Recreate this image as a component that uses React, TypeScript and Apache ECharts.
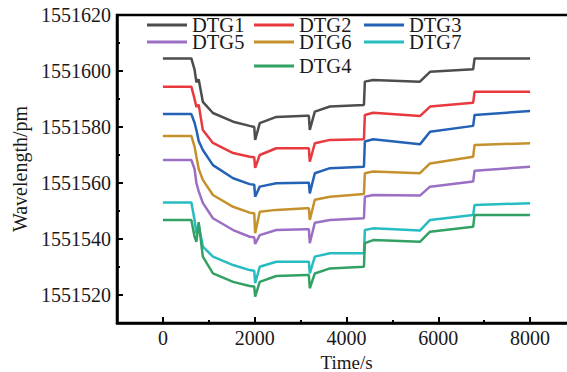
import React, { useEffect, useRef } from "react";
import * as echarts from "echarts";

const timeS = [0, 620, 690, 730, 780, 870, 1090, 1530, 1890, 1990, 2010, 2110, 2470, 3130, 3180, 3200, 3310, 3640, 4380, 4400, 4580, 5600, 5820, 6760, 6790, 8000];

const dtg1 = [1551604.5, 1551604.5, 1551600.5, 1551596, 1551597, 1551589, 1551585, 1551581.9, 1551580.4, 1551580, 1551575.4, 1551581.4, 1551583.6, 1551584, 1551584, 1551579, 1551585.5, 1551587.3, 1551587.9, 1551596.2, 1551596.8, 1551596.2, 1551599.7, 1551600.6, 1551604.5, 1551604.5];
const dtg2 = [1551594.4, 1551594.4, 1551590, 1551587.2, 1551588, 1551578.9, 1551574.3, 1551570.7, 1551569.4, 1551569.2, 1551565.4, 1551570, 1551572.4, 1551572.4, 1551572.4, 1551567.6, 1551574.2, 1551575.4, 1551575.6, 1551584.3, 1551585.1, 1551583.9, 1551587.3, 1551588.7, 1551592.6, 1551592.6];
const dtg3 = [1551584.6, 1551584.6, 1551581.5, 1551578.9, 1551575, 1551571.8, 1551566.4, 1551561.7, 1551559.6, 1551559.4, 1551555.1, 1551558.7, 1551559.9, 1551560.1, 1551560.1, 1551556.3, 1551563.5, 1551565.3, 1551565.8, 1551574.8, 1551575.6, 1551573.8, 1551578.3, 1551580.4, 1551584.3, 1551585.7];
const dtg5 = [1551568.2, 1551568.2, 1551565, 1551560, 1551557, 1551552.9, 1551547.4, 1551543.2, 1551540.8, 1551540.6, 1551538.2, 1551541.4, 1551543.2, 1551543.5, 1551543.5, 1551538.5, 1551545.8, 1551546.8, 1551547.4, 1551555.1, 1551555.7, 1551555.5, 1551558.7, 1551560.5, 1551564.4, 1551565.8];
const dtg6 = [1551576.8, 1551576.8, 1551573, 1551569.4, 1551565, 1551561.1, 1551555.7, 1551551.5, 1551549.4, 1551549.2, 1551542.1, 1551549.7, 1551550.4, 1551551, 1551551, 1551546.8, 1551554, 1551555.1, 1551556.1, 1551563.5, 1551564.1, 1551563.5, 1551567, 1551569.4, 1551573.6, 1551574.2];
const dtg7 = [1551553, 1551553, 1551546.8, 1551542, 1551545, 1551537.3, 1551533.7, 1551530.7, 1551528.9, 1551528.7, 1551524.2, 1551530.1, 1551531.9, 1551531.9, 1551531.9, 1551527.7, 1551533.7, 1551534.9, 1551534.9, 1551543.2, 1551543.8, 1551543, 1551546.8, 1551548.6, 1551552.1, 1551552.8];
const dtg4 = [1551546.8, 1551546.8, 1551540.8, 1551539, 1551546, 1551533.7, 1551527.7, 1551524.7, 1551523.2, 1551523, 1551519.4, 1551524.7, 1551526.8, 1551527.1, 1551527.1, 1551522.4, 1551527.7, 1551529.5, 1551530.1, 1551538.5, 1551539.6, 1551539, 1551542.6, 1551544.4, 1551548.6, 1551548.6];

const xMajorTicks = [0, 2000, 4000, 6000, 8000];
const xMinorTicks = [-1000, 1000, 3000, 5000, 7000, 9000];
const yMajorTicks = [1551520, 1551540, 1551560, 1551580, 1551600, 1551620];
const yMinorTicks = [1551510, 1551530, 1551550, 1551570, 1551590, 1551610];

const seriesDefs = [
  { name: "DTG1", data: dtg1, color: "#4d4d4d" },
  { name: "DTG2", data: dtg2, color: "#e8393f" },
  { name: "DTG3", data: dtg3, color: "#2462b5" },
  { name: "DTG6", data: dtg6, color: "#c4912d" },
  { name: "DTG5", data: dtg5, color: "#9b6fc4" },
  { name: "DTG7", data: dtg7, color: "#26bcc1" },
  { name: "DTG4", data: dtg4, color: "#33a064" },
];

const legendPos = [
  { name: "DTG1", left: 147, row: 0 },
  { name: "DTG2", left: 254, row: 0 },
  { name: "DTG3", left: 364, row: 0 },
  { name: "DTG5", left: 147, row: 1 },
  { name: "DTG6", left: 254, row: 1 },
  { name: "DTG7", left: 364, row: 1 },
  { name: "DTG4", left: 254, row: 2 },
];
const rowCenters = [25, 42, 66];

const FONT = "'Liberation Serif', 'Times New Roman', serif";
const TXT = "#1a1a1a";
const plain = (v: number) => String(Math.round(v));

export default function App() {
  const ref = useRef<HTMLDivElement>(null);
  useEffect(() => {
    if (!ref.current) return;
    const chart = echarts.init(ref.current, undefined, { renderer: "svg" });
    const commonX = { min: -1000, max: 9000, interval: 1000, position: "bottom" as const, splitLine: { show: false } };
    const commonY = { min: 1551510, max: 1551620, interval: 10, position: "left" as const, splitLine: { show: false }, scale: true };
    chart.setOption({
      animation: false,
      backgroundColor: "#ffffff",
      grid: {
        left: 117, top: 15, right: -9, bottom: 49,
        outerBoundsMode: "none",
        containLabel: false,
        show: true, borderColor: "#000", borderWidth: 2.5, backgroundColor: "transparent",
      },
      legend: legendPos.map((l) => ({
        data: [l.name],
        left: l.left,
        top: rowCenters[l.row] - 10.5,
        padding: 0,
        itemWidth: 40,
        itemHeight: 3,
        icon: "rect",
        selectedMode: false,
        textStyle: { fontFamily: FONT, fontSize: 20.5, lineHeight: 15, color: TXT, padding: [6, 0, 0, 0] },
      })),
      xAxis: [
        {
          ...commonX,
          name: "Time/s",
          nameLocation: "middle",
          nameGap: 30,
          nameTextStyle: { fontFamily: FONT, fontSize: 19, lineHeight: 15, color: TXT },
          axisLine: { show: true, onZero: false, lineStyle: { color: "#000", width: 2.5 } },
          axisTick: { show: true, inside: true, length: 6, customValues: xMajorTicks, lineStyle: { color: "#000", width: 2 } },
          axisLabel: { customValues: xMajorTicks, formatter: plain, margin: 5, fontFamily: FONT, fontSize: 20, color: TXT },
        },
        {
          ...commonX,
          axisLine: { show: false, onZero: false },
          axisTick: { show: true, inside: true, length: 3, customValues: xMinorTicks, lineStyle: { color: "#000", width: 2 } },
          axisLabel: { show: false },
        },
      ],
      yAxis: [
        {
          ...commonY,
          name: "Wavelength/pm",
          nameLocation: "middle",
          nameGap: 84,
          nameTextStyle: { fontFamily: FONT, fontSize: 20, color: TXT },
          axisLine: { show: true, onZero: false, lineStyle: { color: "#000", width: 2.5 } },
          axisTick: { show: true, inside: true, length: 6, customValues: yMajorTicks, lineStyle: { color: "#000", width: 2 } },
          axisLabel: { customValues: yMajorTicks, formatter: plain, margin: 6, fontFamily: FONT, fontSize: 20, color: TXT },
        },
        {
          ...commonY,
          axisLine: { show: false, onZero: false },
          axisTick: { show: true, inside: true, length: 3, customValues: yMinorTicks, lineStyle: { color: "#000", width: 2 } },
          axisLabel: { show: false },
        },
      ],
      series: seriesDefs.map((s) => ({
        name: s.name,
        type: "line",
        xAxisIndex: 0,
        yAxisIndex: 0,
        showSymbol: false,
        symbol: "none",
        color: s.color,
        lineStyle: { color: s.color, width: 2.5 },
        data: timeS.map((t, i) => [t, s.data[i]]),
      })),
    });
    return () => chart.dispose();
  }, []);
  return <div ref={ref} style={{ position: "fixed", left: 0, top: 0, width: 567, height: 372 }} />;
}
